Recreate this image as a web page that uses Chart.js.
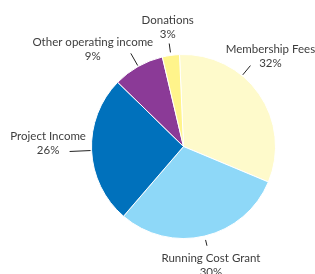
<!DOCTYPE html>
<html lang="en">
<head>
  <meta charset="UTF-8" />
  <title>Income Pie</title>
  <script src="https://cdn.jsdelivr.net/npm/chart.js"></script>
  <style>
    html, body { margin: 0; padding: 0; background: #fff; }
  </style>
</head>
<body>
<canvas id="pieChart" width="315" height="274"></canvas>
<script>
  // data
  const categories = ['Membership Fees', 'Running Cost Grant', 'Project Income', 'Other operating income', 'Donations'];
  const shares = [32, 30, 26, 9, 3];
  const sliceColors = ['#fefacb', '#8ed8f8', '#0071bc', '#8b3a97', '#fff48b'];

  // leader lines: angle tweak (deg), start/end beyond the rim, label block offset from leader end
  const leaderTweak = [-15.5, 0, 0, 0, 0];
  const leaderStart = [1, 4, 1, 1, 3];
  const leaderEnd = [13, 10, 22, 15, 12];
  const labelOffset = [[20, -9.5], [4, 20], [-21.5, -8], [-38, -4], [-1.5, -16]];

  const pieLabels = {
    id: 'pieLabels',
    afterDatasetsDraw(chart) {
      const ctx = chart.ctx;
      const meta = chart.getDatasetMeta(0);
      ctx.save();
      ctx.font = '11.5px Lato';
      ctx.fillStyle = '#3d3d3d';
      ctx.strokeStyle = '#222';
      ctx.lineWidth = 1;
      ctx.textAlign = 'center';
      ctx.textBaseline = 'middle';
      meta.data.forEach((arc, i) => {
        const mid = (arc.startAngle + arc.endAngle) / 2 + leaderTweak[i] * Math.PI / 180;
        const r = arc.outerRadius;
        const x1 = arc.x + Math.cos(mid) * (r + leaderStart[i]);
        const y1 = arc.y + Math.sin(mid) * (r + leaderStart[i]);
        const x2 = arc.x + Math.cos(mid) * (r + leaderEnd[i]);
        const y2 = arc.y + Math.sin(mid) * (r + leaderEnd[i]);
        ctx.beginPath();
        ctx.moveTo(x1, y1);
        ctx.lineTo(x2, y2);
        ctx.stroke();
        const cx = x2 + labelOffset[i][0];
        const cy = y2 + labelOffset[i][1];
        ctx.fillText(categories[i], cx, cy - 7);
        ctx.fillText(shares[i] + '%', cx, cy + 7);
      });
      ctx.restore();
    }
  };

  new Chart(document.getElementById('pieChart'), {
    type: 'pie',
    data: {
      labels: categories,
      datasets: [{
        data: shares,
        backgroundColor: sliceColors,
        borderColor: '#fff',
        borderWidth: 1
      }]
    },
    options: {
      responsive: false,
      animation: false,
      rotation: -2.5,
      layout: { padding: { left: 91, right: 39, top: 54, bottom: 35 } },
      plugins: {
        legend: { display: false },
        tooltip: { enabled: false }
      }
    },
    plugins: [pieLabels]
  });
</script>
</body>
</html>
